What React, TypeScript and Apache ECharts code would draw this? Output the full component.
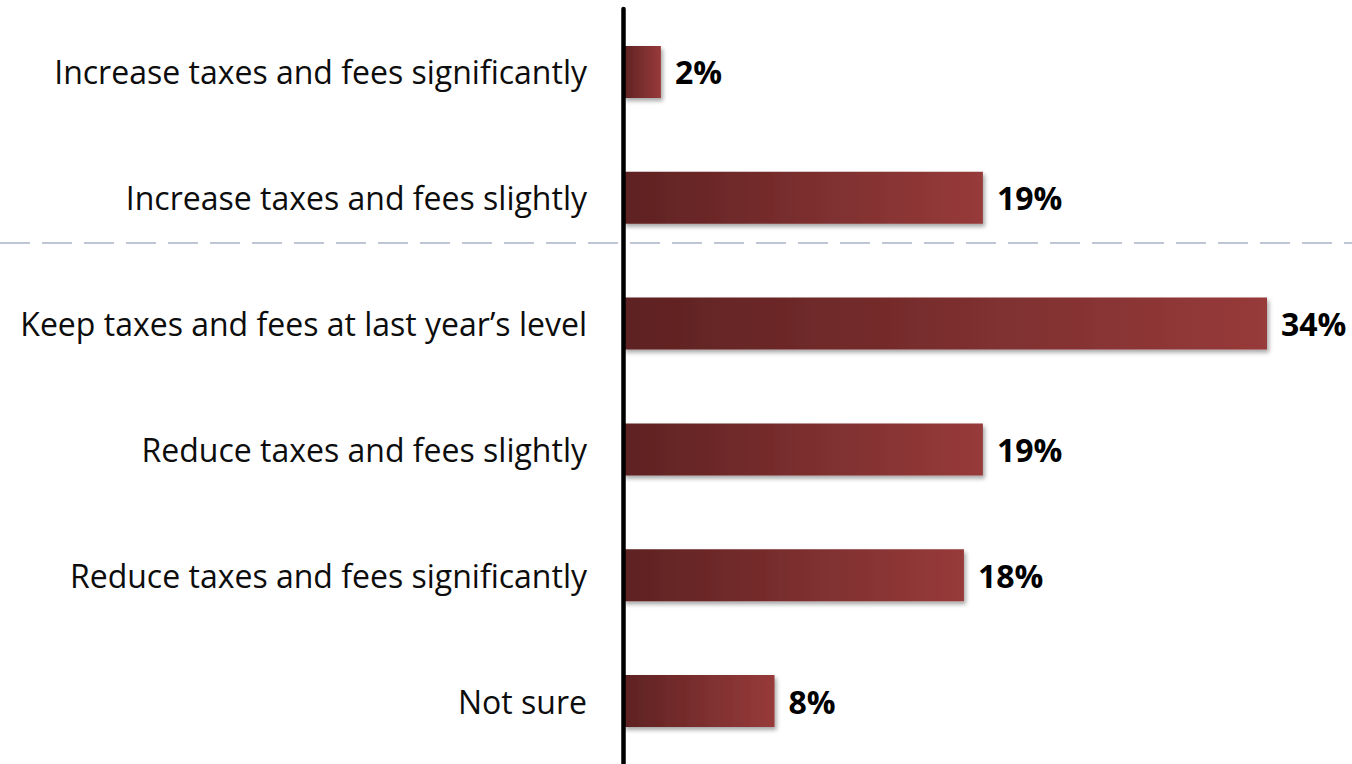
import React, { useEffect, useRef } from "react";
import * as echarts from "echarts";

const categories = [
  "Increase taxes and fees significantly",
  "Increase taxes and fees slightly",
  "Keep taxes and fees at last year\u2019s level",
  "Reduce taxes and fees slightly",
  "Reduce taxes and fees significantly",
  "Not sure",
];
const values = [2, 19, 34, 19, 18, 8];

export default function App() {
  const ref = useRef<HTMLDivElement>(null);
  useEffect(() => {
    document.body.style.margin = "0";
    const chart = echarts.init(ref.current!, null, { renderer: "svg" });
    chart.setOption({
      animation: false,
      backgroundColor: "#ffffff",
      grid: { left: 623, right: 49, top: 9, bottom: -2, containLabel: false },
      xAxis: {
        type: "value",
        min: 0,
        max: 35.9,
        show: false,
      },
      yAxis: {
        type: "category",
        data: categories,
        inverse: true,
        axisLine: { show: true, lineStyle: { color: "#000", width: 4.5 } },
        axisTick: { show: false },
        axisLabel: {
          margin: 36,
          color: "#0d0d0d",
          fontSize: 32,
          fontFamily: "Open Sans",
        },
        splitLine: { show: false },
        z: 5,
      },
      graphic: [
        {
          type: "line",
          z: 0,
          shape: { x1: 0, y1: 243, x2: 1352, y2: 243 },
          style: { stroke: "#a9b3c6", lineWidth: 1.3, lineDash: [30, 12] },
        },
      ],
      series: [
        {
          type: "bar",
          data: values,
          barWidth: 52,
          z: 3,
          itemStyle: {
            color: new echarts.graphic.LinearGradient(0, 0, 1, 0, [
              { offset: 0, color: "#5e2222" },
              { offset: 1, color: "#973a3a" },
            ]),
            shadowColor: "rgba(0,0,0,0.35)",
            shadowBlur: 4,
            shadowOffsetX: 2,
            shadowOffsetY: 3,
          },
          label: {
            show: true,
            position: "right",
            distance: 14,
            formatter: "{c}%",
            color: "#000",
            fontSize: 32,
            fontWeight: "bold",
            fontFamily: "Open Sans",
          },
        },
      ],
    });
    return () => chart.dispose();
  }, []);
  return <div ref={ref} style={{ width: 1352, height: 764 }} />;
}
